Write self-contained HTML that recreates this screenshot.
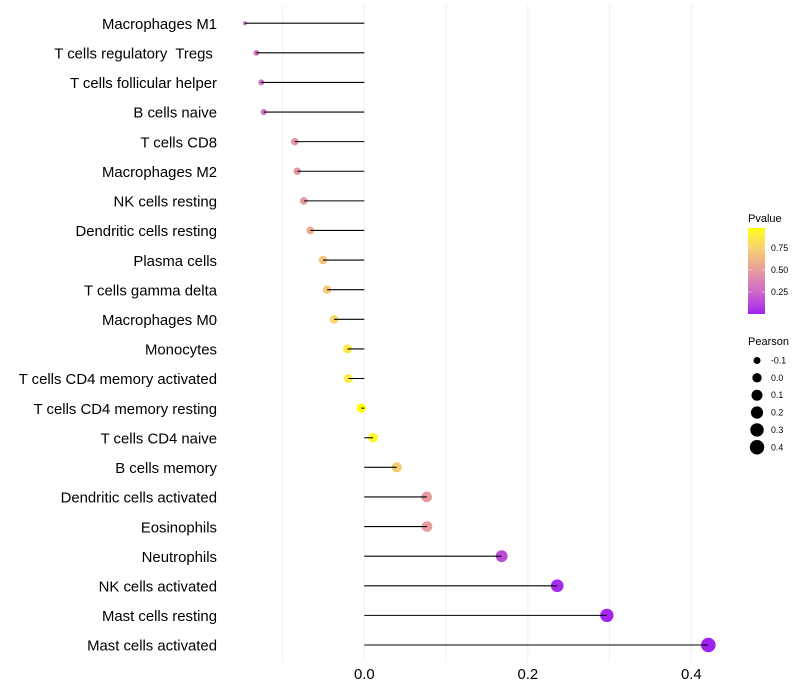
<!DOCTYPE html>
<html>
<head>
<meta charset="utf-8">
<style>
html,body{margin:0;padding:0;background:#fff;width:800px;height:700px;overflow:hidden}
svg{display:block}
text{font-family:"Liberation Sans",sans-serif;white-space:pre}
</style>
</head>
<body>
<svg id="chart" width="800" height="700" viewBox="0 0 800 700" xmlns="http://www.w3.org/2000/svg">
<defs><linearGradient id="pgrad" x1="0" y1="1" x2="0" y2="0"></linearGradient></defs>
<g id="grid"></g>
<g id="points"></g>
<g id="lines"></g>
<g id="ylabels"></g>
<g id="xlabels"></g>
<g id="plegend">
<text x="748" y="222" font-size="11" fill="#000">Pvalue</text>
<rect x="748" y="228" width="17" height="86" fill="url(#pgrad)"></rect>
</g>
<g id="slegend">
<text x="748" y="345" font-size="11" fill="#000">Pearson</text>
</g>
</svg>
<script>
const categories = ["Macrophages M1","T cells regulatory  Tregs ","T cells follicular helper","B cells naive","T cells CD8","Macrophages M2","NK cells resting","Dendritic cells resting","Plasma cells","T cells gamma delta","Macrophages M0","Monocytes","T cells CD4 memory activated","T cells CD4 memory resting","T cells CD4 naive","B cells memory","Dendritic cells activated","Eosinophils","Neutrophils","NK cells activated","Mast cells resting","Mast cells activated"];
const pearson = [-0.146,-0.132,-0.126,-0.123,-0.085,-0.082,-0.074,-0.066,-0.0505,-0.0455,-0.037,-0.0205,-0.0195,-0.0037,0.0107,0.0397,0.0763,0.0767,0.168,0.236,0.2967,0.4208];
const pvalue = [0.26,0.28,0.3,0.31,0.46,0.47,0.5,0.58,0.68,0.72,0.78,0.88,0.89,0.98,0.95,0.72,0.5,0.5,0.14,0.03,0.01,0.001];
const xTickValues = [0,0.2,0.4];
const xGridValues = [-0.1,0,0.1,0.2,0.3,0.4];
const pLegendTicks = [0.25,0.5,0.75];
const pLegendLabels = ["0.25","0.50","0.75"];
const sLegendValues = [-0.1,0,0.1,0.2,0.3,0.4];
const sLegendLabels = ["-0.1","0.0","0.1","0.2","0.3","0.4"];

const NS = "http://www.w3.org/2000/svg";
function mk(tag, parent, attrs){
  const el = document.createElementNS(NS, tag);
  for (const k in attrs) el.setAttribute(k, attrs[k]);
  document.getElementById(parent).appendChild(el);
  return el;
}
const xScale = v => 364.3 + v * 817.5;
const yScale = i => 23.2 + i * (645 - 23.2) / 21;
const pMax = 0.977;
const pScale = p => 314 - p * 88;
const minV = Math.min.apply(null, pearson);
const maxV = Math.max.apply(null, pearson);
const rScale = v => 2 + 5.3 * Math.sqrt(Math.max(0, (v - minV) / (maxV - minV)));

function toLab(c){
  const l = c.map(u => { u /= 255; return u > 0.04045 ? Math.pow((u + 0.055) / 1.055, 2.4) : u / 12.92; });
  const X = (0.4124*l[0]+0.3576*l[1]+0.1805*l[2]) / 0.95047;
  const Y = 0.2126*l[0]+0.7152*l[1]+0.0722*l[2];
  const Z = (0.0193*l[0]+0.1192*l[1]+0.9505*l[2]) / 1.08883;
  const f = t => t > 0.008856 ? Math.cbrt(t) : 7.787*t + 16/116;
  return [116*f(Y)-16, 500*(f(X)-f(Y)), 200*(f(Y)-f(Z))];
}
function fromLab(L){
  const fy = (L[0]+16)/116, fx = fy + L[1]/500, fz = fy - L[2]/200;
  const g = t => t*t*t > 0.008856 ? t*t*t : (t - 16/116) / 7.787;
  const X = g(fx)*0.95047, Y = g(fy), Z = g(fz)*1.08883;
  const r = [3.2406*X-1.5372*Y-0.4986*Z, -0.9689*X+1.8758*Y+0.0415*Z, 0.0557*X-0.2040*Y+1.0570*Z];
  return r.map(u => {
    u = u > 0.0031308 ? 1.055*Math.pow(u, 1/2.4)-0.055 : 12.92*u;
    return Math.round(Math.min(1, Math.max(0, u)) * 255);
  });
}
const labLow = toLab([160,32,240]);
const labHigh = toLab([255,255,0]);
function colorOf(p){
  const t = Math.min(1, Math.max(0, p / pMax));
  const c = fromLab(labLow.map((a, i) => a + (labHigh[i] - a) * t));
  return "rgb(" + c.join(",") + ")";
}

xGridValues.forEach(function(v){
  const g = mk("line", "grid", {x1:xScale(v), x2:xScale(v), y1:5, y2:661.5, stroke:"#efefef", "stroke-width":1});
  
  
});

categories.forEach(function(name, i){
  const y = yScale(i);
  const pt = mk("circle", "points", {cx:xScale(pearson[i]), cy:y, r:rScale(pearson[i]), fill:colorOf(pvalue[i])});
  
  
  const ln = mk("line", "lines", {x1:xScale(0), x2:xScale(pearson[i]), y1:y, y2:y, stroke:"#000", "stroke-width":1.07});
  
  
  const lb = mk("text", "ylabels", {x:217, y:y+5.7, "text-anchor":"end", "font-size":14.9, fill:"#000"});
  lb.textContent = name;
  
  
});

xTickValues.forEach(function(v){
  const t = mk("text", "xlabels", {x:xScale(v), y:679, "text-anchor":"middle", "font-size":14.9, fill:"#000"});
  t.textContent = v.toFixed(1);
  
  
});

const grad = document.getElementById("pgrad");
for (let k = 0; k <= 20; k++){
  const s = document.createElementNS(NS, "stop");
  s.setAttribute("offset", (k / 20));
  s.setAttribute("stop-color", colorOf(pMax * k / 20));
  grad.appendChild(s);
}

pLegendTicks.forEach(function(p, i){
  const y = pScale(p);
  const a = mk("line", "plegend", {x1:748, x2:751.4, y1:y, y2:y, stroke:"#fff", "stroke-width":0.5});
  
  
  const b = mk("line", "plegend", {x1:761.6, x2:765, y1:y, y2:y, stroke:"#fff", "stroke-width":0.5});
  
  
  const t = mk("text", "plegend", {x:771, y:y+3, "font-size":8.8, fill:"#000"});
  t.textContent = pLegendLabels[i];
  
  
});

sLegendValues.forEach(function(v, i){
  const y = 360.5 + i * 17.35;
  const c = mk("circle", "slegend", {cx:757, cy:y, r:rScale(v), fill:"#000"});
  
  
  const t = mk("text", "slegend", {x:771, y:y+3, "font-size":8.8, fill:"#000"});
  t.textContent = sLegendLabels[i];
  
  
});
</script>
</body>
</html>
